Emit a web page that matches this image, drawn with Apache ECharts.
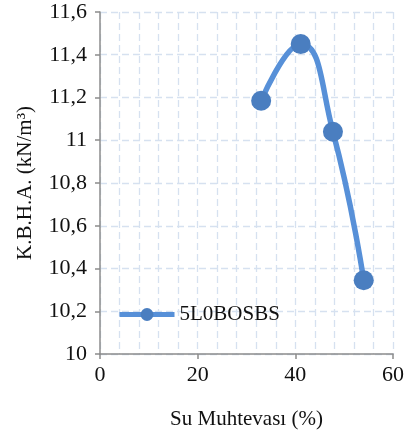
<!DOCTYPE html>
<html lang="tr">
<head>
    <meta charset="UTF-8">
    <title>Chart</title>
    <script src="https://cdn.jsdelivr.net/npm/echarts@6/dist/echarts.min.js"></script>
</head>
<style>
    body{
        margin: 0;
        padding: 0;
        background: #fff;
    }
</style>
<body>
<div id="main" style="width: 410px;height:432px;"></div>
<script>
    // veri
    var seriesName = '5L0BOSBS';
    var suMuhtevasi = [33, 41.1, 47.7, 54];
    var kbha = [11.185, 11.45, 11.04, 10.345];

    var points = [];
    for (var i = 0; i < suMuhtevasi.length; i++) {
        points.push([suMuhtevasi[i], kbha[i]]);
    }

    var font = '"Liberation Serif", "Times New Roman", serif';
    var gridColor = '#D6E1F0';
    var axisColor = '#8C8C8C';

    var chart = echarts.init(document.getElementById('main'));
    var option = {
        animation: false,
        textStyle: { fontFamily: font },
        grid: { left: 100, right: 17, top: 12, bottom: 78, outerBoundsMode: 'none' },
        legend: {
            left: 112,
            top: 299,
            itemWidth: 55,
            itemHeight: 16,
            itemGap: 4,
            lineStyle: { width: 5 },
            textStyle: { fontFamily: font, fontSize: 21, color: '#111' },
            data: [seriesName]
        },
        xAxis: {
            type: 'value',
            min: 0, max: 60, interval: 20,
            name: 'Su Muhtevası (%)',
            nameLocation: 'middle',
            nameGap: 55,
            nameTextStyle: { fontFamily: font, fontSize: 21, color: '#111' },
            axisLine: { lineStyle: { color: axisColor, width: 1.5 } },
            axisTick: { show: true, length: 5, inside: false, lineStyle: { color: axisColor, width: 1.5 } },
            axisLabel: { fontFamily: font, fontSize: 22, color: '#111', margin: 10 },
            splitLine: { show: true, lineStyle: { color: gridColor, type: [7, 4], width: 1.3 } },
            minorTick: { show: false, splitNumber: 5 },
            minorSplitLine: { show: true, lineStyle: { color: gridColor, type: [7, 4], width: 1.3 } }
        },
        yAxis: {
            type: 'value',
            min: 10, max: 11.6, interval: 0.2,
            name: 'K.B.H.A. (kN/m³)',
            nameLocation: 'middle',
            nameGap: 64,
            nameRotate: 90,
            nameTextStyle: { fontFamily: font, fontSize: 21, color: '#111' },
            axisLine: { show: true, lineStyle: { color: axisColor, width: 1.5 } },
            axisTick: { show: true, length: 5, inside: false, lineStyle: { color: axisColor, width: 1.5 } },
            axisLabel: {
                fontFamily: font, fontSize: 22, color: '#111', margin: 13,
                formatter: function (v) {
                    return String(Math.round(v * 10) / 10).replace('.', ',');
                }
            },
            splitLine: { show: true, lineStyle: { color: gridColor, type: [7, 4], width: 1.3 } }
        },
        series: [{
            name: seriesName,
            type: 'line',
            data: points,
            smooth: 0.5,
            symbol: 'circle',
            symbolSize: 20,
            lineStyle: { color: '#5790D8', width: 5.5 },
            itemStyle: { color: '#4A7EC0' }
        }]
    };
    chart.setOption(option);
</script>
</body>
</html>
